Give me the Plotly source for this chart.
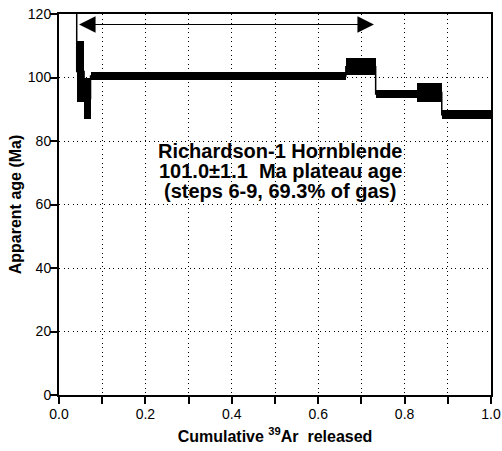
import plotly.graph_objects as go

# Step heating data (cumulative 39Ar fraction, apparent age in Ma, 1-sigma half-height)
step_start = [0.0, 0.041, 0.058, 0.073, 0.664, 0.733, 0.829, 0.886]
step_end   = [0.041, 0.058, 0.073, 0.664, 0.733, 0.829, 0.886, 1.0]
step_age   = [130.0, 101.9, 93.4, 100.5, 103.4, 94.8, 95.3, 88.3]
step_err   = [3.0, 9.7, 6.6, 1.2, 2.6, 1.2, 2.9, 1.4]

plateau_start = 0.043
plateau_end = 0.729
plateau_arrow_age = 116.7

label_lines = ["Richardson-1 Hornblende",
               "101.0\u00b11.1  Ma plateau age",
               "(steps 6-9, 69.3% of gas)"]
label_ages = [76.9, 70.5, 64.1]

x_ticks = [0.0, 0.2, 0.4, 0.6, 0.8, 1.0]
y_ticks = [0, 20, 40, 60, 80, 100, 120]

FONT = "Liberation Sans, Arial, Helvetica, sans-serif"
DOTS = "1.2px,3.3px"

fig = go.Figure()

# connecting step line
xs = step_start + [step_end[-1]]
ys = step_age + [step_age[-1]]
fig.add_trace(go.Scatter(x=xs, y=ys, mode="lines", line=dict(color="black", width=1.5, shape="hv"),
                         hoverinfo="skip", showlegend=False))

# step boxes
fig.add_trace(go.Bar(
    x=[(s + e) / 2 for s, e in zip(step_start, step_end)],
    width=[e - s for s, e in zip(step_start, step_end)],
    base=[a - d for a, d in zip(step_age, step_err)],
    y=[2 * d for d in step_err],
    marker=dict(color="black", line=dict(width=0)),
    showlegend=False,
))

# plateau arrow
fig.add_annotation(x=plateau_end, y=plateau_arrow_age, ax=plateau_start, ay=plateau_arrow_age,
                   xref="x", yref="y", axref="x", ayref="y", text="", showarrow=True,
                   arrowhead=2, startarrowhead=2, arrowside="end+start",
                   arrowsize=3, startarrowsize=3, arrowwidth=1.1, arrowcolor="black")

# white box behind label
fig.add_shape(type="rect", xref="paper", yref="paper", x0=0.176, x1=0.819, y0=0.493, y1=0.675,
              fillcolor="white", line=dict(width=0), layer="between")

for txt, a in zip(label_lines, label_ages):
    fig.add_annotation(x=0.512, y=a, xref="x", yref="y", text="<b>" + txt + "</b>", showarrow=False,
                       font=dict(family=FONT, size=20, color="black"), xanchor="center", yanchor="middle")

fig.update_layout(
    width=502, height=451,
    margin=dict(l=59, r=11, t=14, b=56),
    plot_bgcolor="white", paper_bgcolor="white",
    barmode="overlay", bargap=0,
    font=dict(family=FONT, size=14, color="black"),
    xaxis=dict(range=[0, 1], tickvals=x_ticks, ticktext=["%.1f" % v for v in x_ticks],
               ticks="outside", ticklen=7, tickwidth=1.5, tickcolor="black",
               showline=True, linewidth=2, linecolor="black", mirror=True,
               showgrid=False, zeroline=False, automargin=False, ticklabelstandoff=-2,
               minor=dict(dtick=0.1, ticks="outside", ticklen=7, tickwidth=1.5, tickcolor="black",
                          showgrid=True, gridcolor="black", griddash=DOTS, gridwidth=1),
               title=dict(text="<b>Cumulative <sup>39</sup>Ar  released</b>",
                          font=dict(family=FONT, size=16), standoff=10),
               tickfont=dict(size=14)),
    yaxis=dict(range=[0, 120], tickvals=y_ticks,
               ticks="outside", ticklen=7, tickwidth=1.5, tickcolor="black",
               showline=True, linewidth=2, linecolor="black", mirror=True,
               showgrid=True, gridcolor="black", griddash=DOTS, gridwidth=1,
               zeroline=False, automargin=False, ticklabelstandoff=-4,
               title=dict(text="<b>Apparent age (Ma)</b>", font=dict(family=FONT, size=16), standoff=2),
               tickfont=dict(size=14)),
)

fig.write_html("out.html")
